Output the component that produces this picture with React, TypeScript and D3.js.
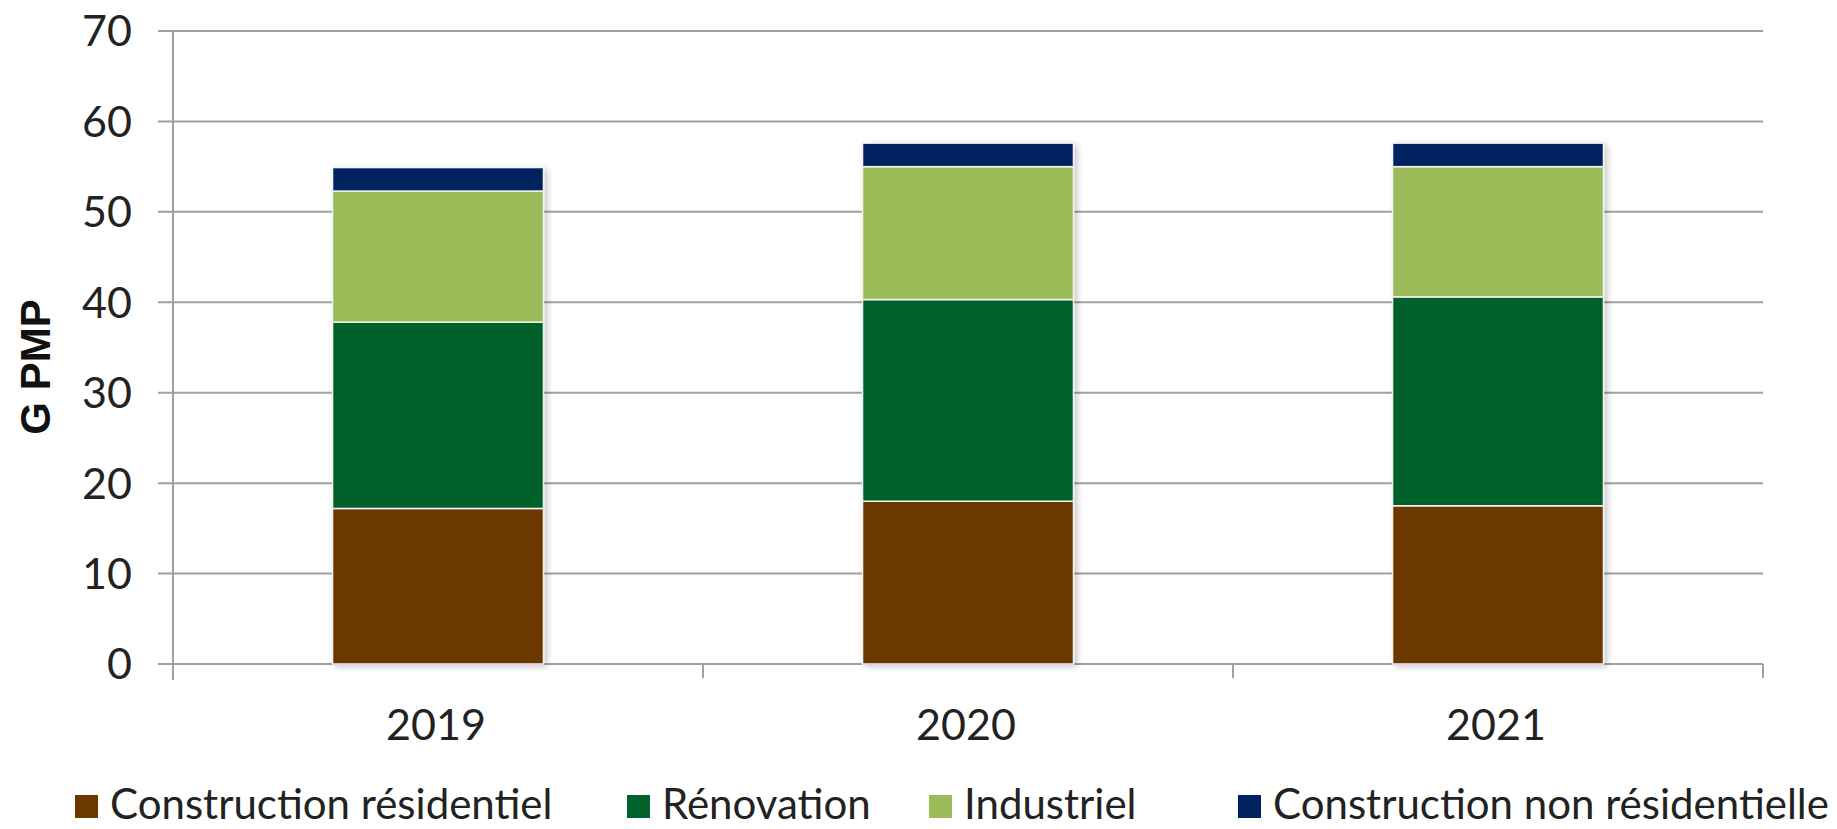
import * as d3 from 'd3';
import { useEffect, useRef } from 'react';

// années (catégories)
const annees = ['2019', '2020', '2021'];

// séries, en G PMP
const residentiel = [17.2, 18.0, 17.5];
const renovation = [20.6, 22.3, 23.1];
const industriel = [14.5, 14.7, 14.4];
const nonResidentiel = [2.6, 2.6, 2.6];

const seriesNoms = ['Construction résidentiel', 'Rénovation', 'Industriel', 'Construction non résidentielle'];
const couleurs = ['#6b3800', '#00612a', '#9bbb59', '#00205f'];
const yTicks = [0, 10, 20, 30, 40, 50, 60, 70];

const W = 1837;
const H = 829;
const FONT = 'Lato, "Liberation Sans", Arial, sans-serif';

export default function App() {
  const svgRef = useRef<SVGSVGElement | null>(null);

  useEffect(() => {
    if (!svgRef.current) return;
    document.body.style.margin = '0';
    document.body.style.overflow = 'hidden';

    const svg = d3.select(svgRef.current);
    svg.selectAll('*').remove();

    const left = 173, right = 1763, top = 31, bottom = 664;

    const x = d3.scaleBand<string>().domain(annees).range([left, right]).padding(0);
    const y = d3.scaleLinear().domain([0, 70]).range([bottom, top]);
    const barW = x.bandwidth() * 0.398;

    // ombre légère façon Excel
    const defs = svg.append('defs');
    defs.append('filter')
      .attr('id', 'ombre')
      .attr('x', '-10%').attr('y', '-10%').attr('width', '130%').attr('height', '130%')
      .append('feDropShadow')
      .attr('dx', 3).attr('dy', 2)
      .attr('stdDeviation', 3)
      .attr('flood-color', '#000')
      .attr('flood-opacity', 0.22);

    // grille horizontale
    svg.append('g')
      .selectAll('line')
      .data(yTicks)
      .join('line')
      .attr('x1', left - 15)
      .attr('x2', right)
      .attr('y1', d => y(d))
      .attr('y2', d => y(d))
      .attr('stroke', '#a0a0a0')
      .attr('stroke-width', 2);

    // axe vertical
    svg.append('line')
      .attr('x1', left).attr('x2', left)
      .attr('y1', top).attr('y2', bottom + 16)
      .attr('stroke', '#a0a0a0').attr('stroke-width', 2);

    // graduations de l'axe des catégories
    const bords = annees.map(a => x(a)!).concat([right]);
    svg.append('g')
      .selectAll('line')
      .data(bords)
      .join('line')
      .attr('x1', d => d).attr('x2', d => d)
      .attr('y1', bottom).attr('y2', bottom + 14)
      .attr('stroke', '#a0a0a0').attr('stroke-width', 2);

    // empilement
    const table = annees.map((a, i) => ({
      annee: a,
      s0: residentiel[i],
      s1: renovation[i],
      s2: industriel[i],
      s3: nonResidentiel[i],
    }));
    const stack = d3.stack<any>().keys(['s0', 's1', 's2', 's3']);
    const couches = stack(table);

    const barres = svg.append('g').attr('filter', 'url(#ombre)');
    couches.forEach((couche, k) => {
      barres.append('g')
        .selectAll('rect')
        .data(couche)
        .join('rect')
        .attr('x', d => x(d.data.annee)! + x.bandwidth() / 2 - barW / 2)
        .attr('width', barW)
        .attr('y', d => y(d[1]))
        .attr('height', d => y(d[0]) - y(d[1]))
        .attr('fill', couleurs[k])
        .attr('stroke', '#f2f2f2')
        .attr('stroke-width', 1.5);
    });

    // étiquettes de l'axe Y
    svg.append('g')
      .selectAll('text')
      .data(yTicks)
      .join('text')
      .attr('x', 132)
      .attr('y', d => y(d))
      .attr('dy', '0.36em')
      .attr('text-anchor', 'end')
      .attr('font-family', FONT)
      .attr('font-size', 43)
      .attr('fill', '#222')
      .text(d => d);

    // étiquettes des années
    svg.append('g')
      .selectAll('text')
      .data(annees)
      .join('text')
      .attr('x', d => x(d)! + x.bandwidth() / 2 - 2)
      .attr('y', 740)
      .attr('text-anchor', 'middle')
      .attr('font-family', FONT)
      .attr('font-size', 43)
      .attr('fill', '#222')
      .text(d => d);

    // titre de l'axe Y
    svg.append('text')
      .attr('transform', `translate(50, 367) rotate(-90)`)
      .attr('text-anchor', 'middle')
      .attr('font-family', '"Liberation Sans", Arial, sans-serif')
      .attr('font-weight', 'bold')
      .attr('font-size', 42)
      .attr('fill', '#111')
      .text('G PMP');

    // légende
    const legX = [75, 627, 929, 1238];
    const leg = svg.append('g')
      .selectAll('g')
      .data(seriesNoms)
      .join('g')
      .attr('transform', (d, i) => `translate(${legX[i]}, 0)`);
    leg.append('rect')
      .attr('x', 0).attr('y', 795)
      .attr('width', 23).attr('height', 23)
      .attr('fill', (d, i) => couleurs[i]);
    leg.append('text')
      .attr('x', 35).attr('y', 819)
      .attr('font-family', FONT)
      .attr('font-size', 42)
      .attr('fill', '#222')
      .text(d => d);
  }, []);

  return <svg ref={svgRef} width={W} height={H} style={{ display: 'block', background: '#fff' }} />;
}
